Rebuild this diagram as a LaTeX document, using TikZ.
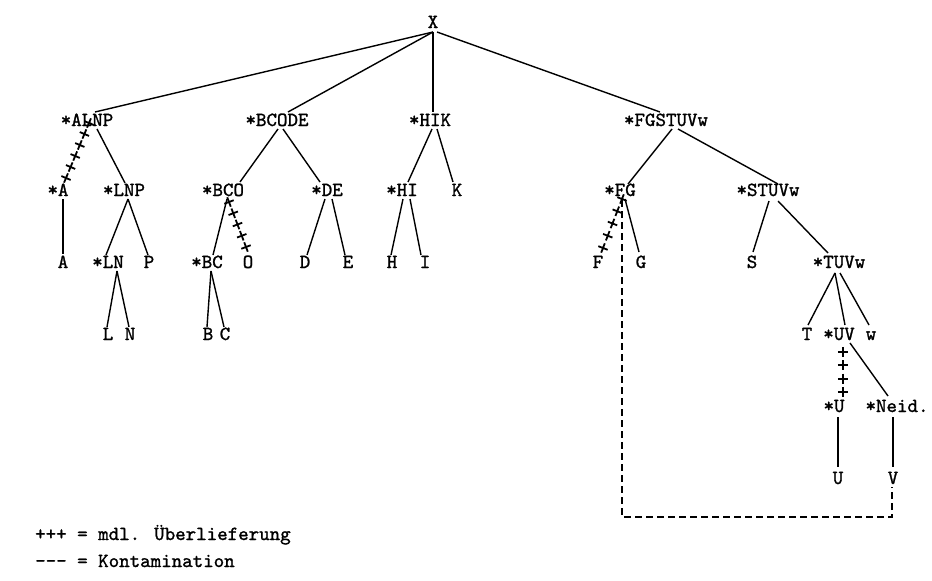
\documentclass[tikz,border=0pt]{standalone}
\usepackage{fontspec}
\newfontfamily\typew[FakeBold=1.3]{lmmono10-regular.otf}
\usetikzlibrary{shapes.misc}
\begin{document}
\begin{tikzpicture}[x=1pt,y=-1pt,
  lbl/.style={anchor=base,inner sep=0pt,font=\typew\fontsize{20}{24}\selectfont},
  leg/.style={anchor=base west,inner sep=0pt,font=\typew\fontsize{20}{24}\selectfont},
  edge/.style={line width=1.4pt},
  kont/.style={line width=1.4pt,dash pattern=on 7pt off 4pt},
  plus/.style={cross out,draw,line width=1.8pt,minimum size=5.3pt,inner sep=0pt,sloped,rotate=45}
]
\useasboundingbox (0,0) rectangle (932,581);
% row 0
\node[lbl] (X) at (433,28) {X};
% row 1
\node[lbl] (ALNP) at (87,126) {*ALNP};
\node[lbl] (BCODE) at (277,126) {*BCODE};
\node[lbl] (HIK) at (430,126) {*HIK};
\node[lbl] (FGSTUVw) at (666,126) {*FGSTUVw};
% row 2
\node[lbl] (sA) at (58,196) {*A};
\node[lbl] (LNP) at (124,196) {*LNP};
\node[lbl] (BCO) at (223,196) {*BCO};
\node[lbl] (DE) at (327,196) {*DE};
\node[lbl] (HI) at (402,196) {*HI};
\node[lbl] (K) at (457,196) {K};
\node[lbl] (FG) at (620,196) {*FG};
\node[lbl] (STUVw) at (768,196) {*STUVw};
% row 3
\node[lbl] (A) at (63,268) {A};
\node[lbl] (LN) at (108,268) {*LN};
\node[lbl] (P) at (149,268) {P};
\node[lbl] (BC) at (207,268) {*BC};
\node[lbl] (O) at (248,268) {O};
\node[lbl] (D) at (305,268) {D};
\node[lbl] (E) at (348,268) {E};
\node[lbl] (H) at (392,268) {H};
\node[lbl] (I) at (425,268) {I};
\node[lbl] (F) at (598,268) {F};
\node[lbl] (G) at (641,268) {G};
\node[lbl] (S) at (752,268) {S};
\node[lbl] (TUVw) at (839,268) {*TUVw};
% row 4
\node[lbl] (L) at (108,340) {L};
\node[lbl] (N) at (130,340) {N};
\node[lbl] (B) at (208,340) {B};
\node[lbl] (C) at (225,340) {C};
\node[lbl] (T) at (807,340) {T};
\node[lbl] (UV) at (839,340) {*UV};
\node[lbl] (w) at (871,340) {w};
% row 5
\node[lbl] (sU) at (834,412) {*U};
\node[lbl] (Neid) at (897,412) {*Neid.};
% row 6
\node[lbl] (U) at (838,484) {U};
\node[lbl] (V) at (893,484) {V};
% legend
\node[leg] (leg1) at (35,540) {+++ = mdl. Überlieferung};
\node[leg] (leg2) at (35,567) {-{}-{}- = Kontamination};

% edges from X
\draw[edge] ([shift={(0,4)}]X.base) -- ([shift={(8,-14)}]ALNP.base);
\draw[edge] ([shift={(0,4)}]X.base) -- ([shift={(11,-14)}]BCODE.base);
\draw[edge] ([shift={(0,4)}]X.base) -- ([shift={(3,-14)}]HIK.base);
\draw[edge] ([shift={(4,4)}]X.base) -- ([shift={(-6,-14)}]FGSTUVw.base);
% ALNP subtree
\path ([shift={(2,-3)}]ALNP.base) -- ([shift={(8,-18)}]sA.base)
  node[pos=0,plus]{} node[pos=0.2,plus]{} node[pos=0.4,plus]{}
  node[pos=0.6,plus]{} node[pos=0.8,plus]{} node[pos=1,plus]{};
\draw[edge] ([shift={(10,3)}]ALNP.base) -- ([shift={(1,-13)}]LNP.base);
\draw[edge] ([shift={(5,3)}]sA.base) -- ([shift={(0,-14)}]A.base);
\draw[edge] ([shift={(4,3)}]LNP.base) -- ([shift={(-2,-13)}]LN.base);
\draw[edge] ([shift={(4,3)}]LNP.base) -- ([shift={(-1,-13)}]P.base);
\draw[edge] ([shift={(9,3)}]LN.base) -- ([shift={(-1,-13)}]L.base);
\draw[edge] ([shift={(9,3)}]LN.base) -- ([shift={(-1,-13)}]N.base);
% BCODE subtree
\draw[edge] ([shift={(1,3)}]BCODE.base) -- ([shift={(17,-14)}]BCO.base);
\draw[edge] ([shift={(6,3)}]BCODE.base) -- ([shift={(-7,-14)}]DE.base);
\draw[edge] ([shift={(4,3)}]BCO.base) -- ([shift={(6,-13)}]BC.base);
\path ([shift={(6,6)}]BCO.base) -- ([shift={(-2,-21)}]O.base)
  node[pos=0,plus]{} node[pos=0.25,plus]{} node[pos=0.5,plus]{}
  node[pos=0.75,plus]{} node[pos=1,plus]{};
\draw[edge] ([shift={(4,3)}]BC.base) -- ([shift={(-1,-13)}]B.base);
\draw[edge] ([shift={(4,3)}]BC.base) -- ([shift={(-1,-13)}]C.base);
\draw[edge] ([shift={(-2,3)}]DE.base) -- ([shift={(2,-13)}]D.base);
\draw[edge] ([shift={(5,3)}]DE.base) -- ([shift={(-3,-13)}]E.base);
% HIK subtree
\draw[edge] ([shift={(2,3)}]HIK.base) -- ([shift={(6,-14)}]HI.base);
\draw[edge] ([shift={(7,3)}]HIK.base) -- ([shift={(-4,-14)}]K.base);
\draw[edge] ([shift={(1,3)}]HI.base) -- ([shift={(-1,-13)}]H.base);
\draw[edge] ([shift={(8,3)}]HI.base) -- ([shift={(-4,-13)}]I.base);
% FGSTUVw subtree
\draw[edge] ([shift={(6,3)}]FGSTUVw.base) -- ([shift={(8,-12)}]FG.base);
\draw[edge] ([shift={(12,3)}]FGSTUVw.base) -- ([shift={(10,-12)}]STUVw.base);
\path ([shift={(2,3)}]FG.base) -- ([shift={(5,-20)}]F.base)
  node[pos=0,plus]{} node[pos=0.25,plus]{} node[pos=0.5,plus]{}
  node[pos=0.75,plus]{} node[pos=1,plus]{};
\draw[edge] ([shift={(5,3)}]FG.base) -- ([shift={(-2,-16)}]G.base);
\draw[edge] ([shift={(1,5)}]STUVw.base) -- ([shift={(1,-16)}]S.base);
\draw[edge] ([shift={(10,5)}]STUVw.base) -- ([shift={(-11,-15)}]TUVw.base);
\draw[edge] ([shift={(-4,5)}]TUVw.base) -- ([shift={(1,-15)}]T.base);
\draw[edge] ([shift={(-4,5)}]TUVw.base) -- ([shift={(6,-15)}]UV.base);
\draw[edge] ([shift={(1,5)}]TUVw.base) -- ([shift={(-2,-15)}]w.base);
\path ([shift={(4,12)}]UV.base) -- ([shift={(9,-20)}]sU.base)
  node[pos=0,plus]{} node[pos=0.333,plus]{} node[pos=0.667,plus]{}
  node[pos=1,plus]{};
\draw[edge] ([shift={(11,3)}]UV.base) -- ([shift={(-9,-16)}]Neid.base);
\draw[edge] ([shift={(4,5)}]sU.base) -- ([shift={(0,-17)}]U.base);
\draw[edge] ([shift={(-4,5)}]Neid.base) -- ([shift={(0,-17)}]V.base);
% contamination
\coordinate (k1) at (622,517);
\coordinate (k2) at (892,517);
\draw[kont] ([shift={(2,4)}]FG.base) -- (k1) -- (k2) -- ([shift={(-1,3)}]V.base);
\end{tikzpicture}
\end{document}
